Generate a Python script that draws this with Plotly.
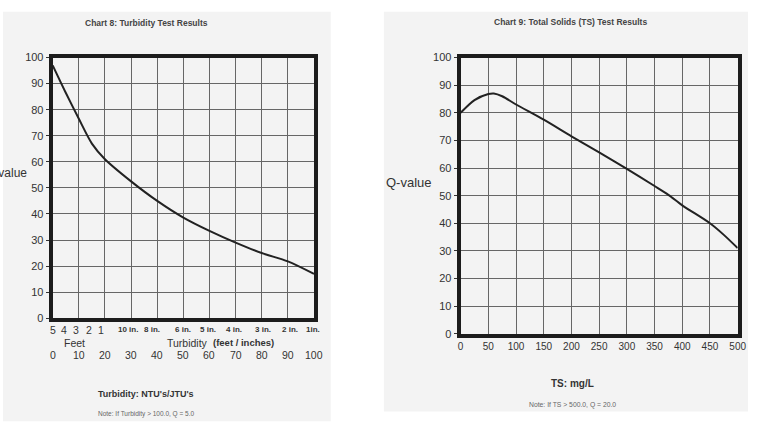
import plotly.graph_objects as go

W, H = 757, 438

# ---------------- data ----------------
q_ticks = [0, 10, 20, 30, 40, 50, 60, 70, 80, 90, 100]

# Chart 8: Turbidity
turb_ntu = [0, 5, 10, 15, 20, 30, 40, 50, 60, 70, 80, 90, 100]
turb_q = [97, 86.5, 76.5, 67, 61, 52.5, 45, 38.6, 33.5, 29, 25, 21.8, 17]
ntu_ticks = [0, 10, 20, 30, 40, 50, 60, 70, 80, 90, 100]
depth_labels = ["5", "4", "3", "2", "1", "10 in.", "8 in.", "6 in.", "5 in.",
                "4 in.", "3 in.", "2 in.", "1in."]
depth_ntu = [0, 4.5, 9, 13.8, 18.5, 29, 38, 49.8, 59.6, 69.4, 80.6, 90.8, 99.8]

# Chart 9: Total solids
ts_mgl = [0, 25, 50, 60, 75, 100, 150, 200, 250, 300, 350, 375, 400, 450, 475, 500]
ts_q = [80, 84.6, 86.8, 87, 86, 83, 77.5, 71.5, 65.7, 59.7, 53.5, 50.3, 46.5, 40, 35.8, 31]
ts_ticks = [0, 50, 100, 150, 200, 250, 300, 350, 400, 450, 500]

# ---------------- layout helpers ----------------
def px(x):
    return x / W

def py(y):
    return 1 - y / H

FONT = "Liberation Sans, Arial, Helvetica, sans-serif"
LINE = "#1c1c1c"
GRID = "#666666"
TXT = "#333333"
PANEL = "#f3f3f3"

fig = go.Figure()

fig.add_trace(go.Scatter(x=turb_ntu, y=turb_q, mode="lines",
                         line=dict(color="#222", width=2, shape="spline", smoothing=0.8),
                         xaxis="x", yaxis="y", showlegend=False, hoverinfo="skip"))
fig.add_trace(go.Scatter(x=ts_mgl, y=ts_q, mode="lines",
                         line=dict(color="#222", width=2, shape="spline", smoothing=0.8),
                         xaxis="x2", yaxis="y2", showlegend=False, hoverinfo="skip"))

axis_common = dict(showline=True, linecolor=LINE, linewidth=4, mirror=True,
                   showgrid=True, gridcolor=GRID, gridwidth=1, zeroline=False,
                   fixedrange=True)

fig.update_layout(
    width=W, height=H,
    margin=dict(l=0, r=0, t=0, b=0),
    paper_bgcolor="white",
    plot_bgcolor="rgba(0,0,0,0)",
    font=dict(family=FONT, color=TXT),
    xaxis=dict(domain=[px(50.5), px(316)], range=[0, 100], tickvals=ntu_ticks,
               showticklabels=False, ticks="", anchor="y", **axis_common),
    yaxis=dict(domain=[py(321), py(53)], range=[0, 100], tickvals=q_ticks,
               ticks="outside", ticklen=3, tickcolor=TXT, tickwidth=1,
               tickfont=dict(size=11, color=TXT), anchor="x", **axis_common),
    xaxis2=dict(domain=[px(465), px(746.5)], range=[0, 500], tickvals=ts_ticks,
                ticks="", tickfont=dict(size=10, color=TXT), anchor="y2", **axis_common),
    yaxis2=dict(domain=[py(337), py(53)], range=[0, 100], tickvals=q_ticks,
                ticks="outside", ticklen=3, tickcolor=TXT, tickwidth=1,
                tickfont=dict(size=11, color=TXT), anchor="x2", **axis_common),
)

# gray panels
fig.add_shape(type="rect", xref="paper", yref="paper", x0=px(0), x1=px(333),
              y0=py(427), y1=py(6), fillcolor=PANEL, line_width=0, layer="below")
fig.add_shape(type="rect", xref="paper", yref="paper", x0=px(387), x1=px(757),
              y0=py(417), y1=py(6), fillcolor=PANEL, line_width=0, layer="below")

ann = []

def text(x, y, s, size, bold=False, color=TXT, xanchor="center", xref="paper"):
    ann.append(dict(x=x, y=py(y), xref=xref, yref="paper", text=s, showarrow=False,
                    xanchor=xanchor, yanchor="middle",
                    font=dict(size=size, color=color, family=FONT,
                              weight="bold" if bold else "normal")))

# titles
text(px(146), 17, "Chart 8: Turbidity Test Results", 8.5, bold=True, color="#444")
text(px(577), 16, "Chart 9: Total Solids (TS) Test Results", 8.5, bold=True, color="#444")

# y axis titles
text(px(26), 172, "Q-value", 12, xanchor="right")
text(px(413), 181, "Q-value", 13)

# left chart x rows
for lab, v in zip(depth_labels, depth_ntu):
    small = "in" in lab
    text(v, 333, lab, 8 if small else 10.5, bold=small, xref="x")
for v in ntu_ticks:
    text(v, 359, str(v), 10.5, xref="x")
text(px(73), 346, "Feet", 10.5)
text(px(187), 346, "Turbidity", 10.5)
text(px(244), 346, "(feet / inches)", 9.5, bold=True)

# axis titles and notes
text(px(145), 399, "Turbidity: NTU's/JTU's", 9, bold=True)
text(px(145), 420, "Note: If Turbidity &gt; 100.0, Q = 5.0", 6.5, color="#666")
text(px(579), 388, "TS: mg/L", 10, bold=True)
text(px(579), 410, "Note: If TS &gt; 500.0, Q = 20.0", 6.8, color="#666")

fig.update_layout(annotations=ann)

fig.write_html("out.html")
